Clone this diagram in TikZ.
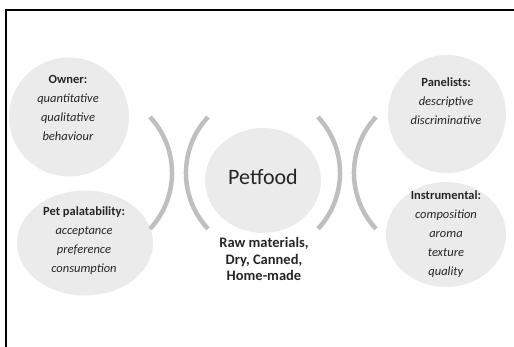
\documentclass[tikz,border=0pt]{standalone}
\usepackage{fontspec}
\setmainfont{Carlito}
\usetikzlibrary{shapes.geometric}
\definecolor{blobgray}{HTML}{EBEBEB}
\definecolor{arcgray}{HTML}{BFBFBF}
\definecolor{txtdark}{HTML}{262626}

\begin{document}
\begin{tikzpicture}[
  x=1pt, y=1pt,
  every node/.style={text=txtdark},
  blob/.style={ellipse, fill=blobgray, inner sep=0pt},
  label/.style={align=center, font=\fontsize{12.5}{19}\selectfont},
  bracket/.style={arcgray, line width=4.5pt},
]

% Frame
\useasboundingbox (0,0) rectangle (514,347);
\draw[black, line width=2pt] (6,0) -- (6,337) -- (514,337);

% Circles
\node[blob, minimum width=120, minimum height=119] (owner) at (69,230) {};
\node[blob, minimum width=136, minimum height=105] (palat) at (85,104) {};
\node[blob, minimum width=116, minimum height=105] (petfood) at (263,166.5) {};
\node[blob, minimum width=118, minimum height=118] (panel) at (447,233) {};
\node[blob, minimum width=120, minimum height=105] (instr) at (446,112.5) {};

% Brackets -- left pair
\draw[bracket] (150,230) arc[start angle=43, end angle=-43, radius=82];
\draw[bracket] (208,230) arc[start angle=137, end angle=223, radius=82];
% Brackets -- right pair
\draw[bracket] (318,230) arc[start angle=43, end angle=-43, radius=82];
\draw[bracket] (376,230) arc[start angle=137, end angle=223, radius=82];

% Texts
\node[label] (owner-txt) at (68,239.5)
  {\textbf{Owner:}\\ \textit{quantitative}\\ \textit{qualitative}\\ \textit{behaviour}};
\node[label] (palat-txt) at (84,106)
  {\textbf{Pet palatability:}\\ \textit{acceptance}\\ \textit{preference}\\ \textit{consumption}};
\node[font=\fontsize{22}{26}\selectfont] (petfood-txt) at (263,170) {Petfood};
\node[align=center, font=\fontsize{14.5}{16.5}\selectfont\bfseries] (kinds) at (264,88)
  {Raw materials,\\ Dry, Canned,\\ Home-made};
\node[label] (panel-txt) at (446,246)
  {\textbf{Panelists:}\\ \textit{descriptive}\\ \textit{discriminative}};
\node[label] (instr-txt) at (446,113)
  {\textbf{Instrumental:}\\ \textit{composition}\\ \textit{aroma}\\ \textit{texture}\\ \textit{quality}};

\end{tikzpicture}
\end{document}
